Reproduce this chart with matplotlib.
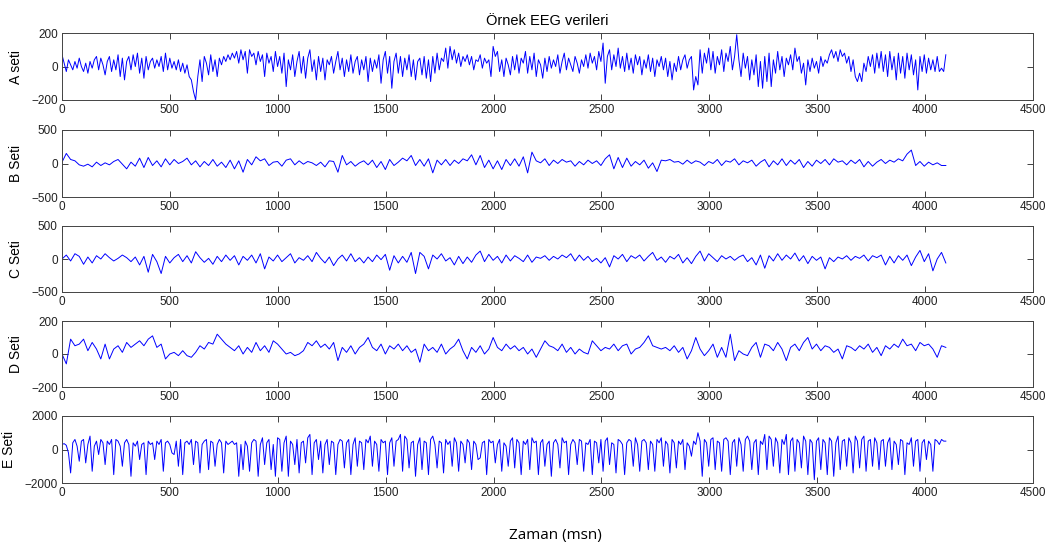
import numpy as np
import matplotlib
matplotlib.use("Agg")
import matplotlib.pyplot as plt

# Ornek EEG verileri
# A and E every ~10 samples, B, C, D every ~20 samples

set_a = [70, 20, -30, 40, 10, -20, 30, -10, 50, 0,
         -30, 20, -40, 30, -10, 40, 60, -20, 50, 10,
         -50, 30, 60, -30, 40, -20, 70, -60, 50, -80,
         30, 60, -20, 70, 0, 80, -40, 50, -70, 60,
         -20, 30, 50, -10, 40, 0, 60, -30, 80, -20,
         50, -10, 30, -20, 40, -30, 20, -40, 10, -60,
         -80, -150, -200, -60, 40, -90, 60, 20, -50, 70,
         -30, 40, -60, 50, 10, 60, 30, 70, 40, 80,
         50, 90, 20, 100, 40, 90, -40, 100, 60, 80,
         10, 90, 30, 70, -60, 80, 20, 60, -30, 90,
         0, 60, -40, 80, -120, 40, -20, 70, -60, 30,
         90, -40, 60, -70, 50, 100, -30, 40, -80, 60,
         -30, 50, -80, 40, 10, 60, -40, 30, 90, -20,
         50, -60, 40, -30, 70, -40, 30, 60, -50, 40,
         -20, 60, -90, 50, -30, 40, -10, 70, -100, 40,
         90, -40, 60, -130, 30, 80, -40, 60, -60, 50,
         -20, 70, -60, 40, -80, 30, 50, -50, 60, -70,
         40, -90, 60, -40, 80, -20, 50, 30, 110, -10,
         120, 40, 100, 20, 80, 0, 60, 30, 70, 10,
         60, -20, 40, 30, 70, -10, 50, 20, 40, -60,
         120, 60, 90, -30, 40, -60, 50, 10, -50, 60,
         -20, 70, -40, 50, 20, 90, -40, 60, -20, 80,
         -60, 40, 10, -70, 50, -30, 60, -10, 40, 0,
         70, -40, 30, 80, -20, 50, 10, -30, 60, 20,
         -40, 40, 0, 70, -10, 80, 20, 60, -20, 90,
         30, 140, -100, 60, 100, -20, 70, 0, 110, -10,
         60, -30, 80, -20, 50, -40, 70, 10, 60, -50,
         40, -10, 70, -30, 50, -60, 40, 0, 60, -20,
         50, -60, 30, -80, 20, -30, 60, -20, 40, 70,
         -10, 40, 60, -140, -60, -110, 100, -40, 80, 20,
         110, -20, 90, -40, 60, 10, 100, -30, 80, 30,
         120, -20, 60, 190, 40, -60, 80, -10, 60, -80,
         40, -50, 70, -120, 30, -130, 60, -90, 80, -120,
         40, -40, 90, -20, 60, -60, 50, 10, 70, -20,
         110, 30, 60, -40, 20, -110, 40, -30, 50, -10,
         30, -40, 60, 0, 40, 20, 70, 100, 50, 90,
         30, 100, 60, 80, 20, 60, -30, 40, -60, -90,
         -40, -90, 20, -30, 60, 0, 70, -40, 80, -10,
         90, -30, 70, -60, 90, -20, 60, -80, 80, -40,
         60, -70, 80, -20, 70, -50, 40, -140, 60, -30,
         70, -40, 50, -20, 40, -30, 60, -30, -10, -30,
         70]

set_b = [20, 150, 60, 40, -20, -40, -10, -50, 20, -30,
         10, -20, 30, 60, -10, -80, 20, -40, 80, -60,
         90, -30, 40, -50, 70, -20, 60, 0, 30, 80,
         -20, 40, -50, 30, -30, 60, -40, 20, -60, 50,
         -80, 40, -130, 60, -20, 100, 40, 70, -30, 20,
         30, -40, 50, 70, -20, 40, -10, 30, 10, -30,
         20, -50, 40, 30, -130, 120, -20, 30, -40, 10,
         40, -20, 50, -60, 30, -90, 60, -30, 20, 80,
         40, 120, -30, 60, -40, 70, -140, 50, -20, 60,
         -30, 50, 0, 70, 40, 130, -20, 120, -60, 50,
         -80, 40, -90, 60, -30, 70, -40, 100, -140, 170,
         40, 10, 70, -30, 50, 0, 60, 20, 40, -40,
         30, -20, 50, 0, 40, -30, 70, 130, -80, 90,
         -60, 80, -40, 30, -20, 50, -70, 10, -120, 50,
         40, 60, 20, 30, -10, 50, 0, 40, 20, -30,
         30, 0, 60, -30, 40, 20, 70, -20, 40, 10,
         50, -40, 20, 60, -50, 40, -20, 70, -30, 50,
         -10, 60, -60, 30, -40, 50, 0, 60, -20, 70,
         20, 40, -20, 50, 0, 60, -50, 30, -40, 20,
         60, 0, 50, 20, 70, 40, 140, 200, -30, 30,
         -40, 20, -20, 10, -30, -30]

set_c = [0, 60, -30, 80, 40, -80, 30, -60, 50, 0,
         80, 20, -30, 10, 60, 20, -40, 30, -90, 40,
         -200, 70, -40, -220, 40, -60, 20, 70, -40, 50,
         -60, 110, 20, -50, 10, -80, 40, -40, 60, -20,
         50, -90, 40, -20, 60, -60, 80, -150, 30, -30,
         60, -40, 20, 80, -60, 20, -20, 50, -40, 100,
         10, -60, 30, -100, 0, 60, -30, 80, -40, 20,
         -60, 30, -40, 60, -10, 70, -170, 50, -60, 40,
         -50, 100, -220, 100, 40, -150, 60, 0, 80, -30,
         20, -90, 40, -70, 30, -50, 60, 120, -40, 70,
         -20, 40, -60, 60, -30, 50, 10, -40, 60, -50,
         30, 10, 50, -20, 40, 0, 60, 20, 80, -30,
         60, -20, 40, -40, 10, -60, 20, -120, 50, 0,
         70, -40, 50, 10, 60, -30, 40, 100, -20, 30,
         -50, 40, 0, 70, -60, 20, -70, 40, 120, -30,
         80, 20, -40, 50, 0, 40, -20, 30, 60, -40,
         20, -90, 60, -140, 50, -30, 80, -20, 60, 0,
         90, -30, 50, -70, 40, -20, 30, -150, 20, -40,
         30, 0, 50, -20, 40, 10, 60, -30, 50, 20,
         60, -90, 40, -60, 50, -20, 60, -100, 30, 130,
         -40, 80, -180, 0, 100, -60]

set_d = [0, -60, 90, 50, 60, 90, 20, 70, 30, -30,
         60, -30, 30, 50, 10, 70, 40, 60, 80, 50,
         90, 110, 40, 60, -30, 0, 10, -10, 20, -10,
         -20, 10, 50, 30, 70, 60, 120, 90, 60, 40,
         20, 50, 0, 40, 10, 70, 20, 50, 10, 80,
         60, 30, 0, 10, -10, 0, 20, 70, 50, 80,
         40, 60, 30, 70, -40, 40, 10, 50, 0, 40,
         60, 100, 40, 20, 60, 0, 50, 30, 60, 20,
         50, 10, 30, -50, 60, 20, 40, 10, 60, 0,
         30, 50, 90, 20, -30, 40, 10, 50, 0, 30,
         100, 40, 20, 60, 30, 50, 20, 40, 0, 30,
         -20, 30, 80, 50, 40, 20, 60, 10, 40, 0,
         30, 10, 0, 80, 50, 20, 40, 30, 60, 20,
         50, 60, 0, 30, 40, 70, 110, 50, 40, 30,
         40, 20, 50, 10, 40, -30, 20, 100, 30, -10,
         20, 60, -20, 40, -20, 120, -40, 20, 0, -10,
         40, 70, -20, 60, 50, 20, 70, 30, -40, 40,
         60, 20, 70, 100, 30, 60, 20, 50, 40, 10,
         30, -30, 50, 40, 20, 50, 30, 60, 10, 40,
         -10, 50, 30, 60, 40, 90, 50, 60, 20, 70,
         50, 60, 30, -20, 50, 40]

set_e = [300, 350, 250, -200, -1400, 400, 600, 200, -700, 500,
         600, -800, 300, 800, -1300, 200, 500, -300, 600, 400,
         -900, 500, 300, 600, -1500, 600, 500, 200, -1000, 400,
         600, 300, -1600, 400, 200, 500, -600, 300, 400, -1500,
         500, 300, 400, -600, 500, 300, 600, -1300, 400, 500,
         300, -200, -300, 500, -1000, 600, -1500, 400, 500, 300,
         600, -900, 500, 400, -1400, 300, 500, 600, -1200, 500,
         400, -1000, 300, 600, 400, -1400, 500, 300, 400, 500,
         300, 400, -1600, 300, -1200, 500, 200, -1300, 400, 600,
         500, -1600, 300, 700, -900, 400, 600, -1200, 300, -1600,
         700, 600, -1300, 400, 800, -1600, 500, 300, -900, 600,
         -1400, 400, 500, -800, 700, 900, -1500, 400, 600, -600,
         500, -1400, 300, 600, -900, 500, 400, -1500, 300, 600,
         500, -1100, 400, 600, -1500, 300, 700, -1000, 500, 400,
         -1200, 600, 400, 800, -1000, 500, 300, -1300, 600, 400,
         500, -1500, 400, 700, -1000, 500, 600, 900, -1300, 800,
         600, -1100, 400, 500, -1600, 300, 700, -1200, 500, 400,
         -1500, 600, 800, 300, -1100, 500, 400, -1400, 600, 300,
         500, -1000, 700, 400, -1300, 500, 300, -800, 600, 400,
         -1200, 500, 300, -600, -500, 400, 500, -1500, 600, 400,
         500, -800, 300, 600, -1300, 400, 200, -1000, 500, 700,
         -1100, 600, 400, -1500, 500, 300, 600, -1200, 700, 400,
         500, -1500, 400, 600, -1000, 300, 500, -1600, 400, 600,
         300, -1100, 700, 400, 500, -1500, 300, 600, 400, -900,
         600, 500, -1300, 400, 300, 600, -1500, 500, 400, -800,
         600, -1300, 500, 700, -900, 400, 300, -1400, 600, 500,
         300, -1500, 400, 600, 500, -1000, 700, 300, -1300, 500,
         600, 400, -1200, 500, 300, -1300, 600, 400, 700, -1000,
         500, 300, -1400, 600, 400, -1100, 500, 300, 600, -1200,
         400, 200, -400, 500, 300, 1000, 500, -1600, 600, 400,
         -1000, 600, 700, -1200, 500, 400, -1300, 600, 700, 500,
         -1500, 400, 600, -1000, 700, 300, -1300, 600, 800, 500,
         -1200, 400, 600, -1500, 500, 300, 900, -1200, 800, 600,
         -1000, 700, 400, -1400, 600, 300, 900, -1500, 500, 700,
         -1300, 600, 400, -1100, 800, 500, -1500, 600, 400, -1800,
         500, 700, -1200, 600, 400, -1500, 700, 500, -1600, 400,
         800, -1200, 500, 600, -1000, 700, 400, -1400, 800, 500,
         -1100, 600, 800, -1300, 500, 600, -1000, 700, 400, -1200,
         500, 600, -1000, 400, 700, -1200, 500, 300, -900, 600,
         500, -1500, 400, 300, 700, -1000, 500, 600, -1300, 400,
         600, -600, 500, 300, -1300, 600, 500, 300, 600, 500,
         500]

series = [set_a, set_b, set_c, set_d, set_e]
names = ['A seti', 'B Seti', 'C Seti', 'D Seti', 'E Seti']
limits = [200, 500, 500, 200, 2000]
n_samples = 4097

plt.rcParams['font.family'] = ['Liberation Sans', 'DejaVu Sans']

fig = plt.figure(figsize=(10.45, 5.47), dpi=100)

# axes boxes in pixels: top, bottom
boxes = [(33, 100), (130, 197), (226, 292), (321, 387), (416, 483)]
W, H = 1045, 547
left, right = 62, 1033

for k in range(5):
    top, bot = boxes[k]
    ax = fig.add_axes([left / W, 1 - bot / H, (right - left) / W, (bot - top) / H])
    y = np.array(series[k])
    x = np.linspace(0, n_samples - 1, len(y))
    ax.plot(x, y, color='#0000ff', linewidth=0.7)
    lim = limits[k]
    ax.set_xlim(0, 4500)
    ax.set_ylim(-lim, lim)
    ax.set_xticks(np.arange(0, 4501, 500))
    ax.set_yticks([-lim, 0, lim])
    ax.tick_params(direction='in', top=True, right=True, length=4,
                   width=0.6, labelsize=8.5, colors='#222222', pad=3)
    for s in ax.spines.values():
        s.set_color('#444444')
        s.set_linewidth(0.7)
    ax.set_ylabel(names[k], fontsize=10, labelpad=6)
    if k == 0:
        ax.set_title('Örnek EEG verileri', fontsize=10.5, pad=6)

fig.text(555 / W, 1 - 536 / H, 'Zaman (msn)', ha='center', va='center',
         fontsize=11, family=['Open Sans', 'DejaVu Sans'])

fig.savefig('out.png', dpi=100)
